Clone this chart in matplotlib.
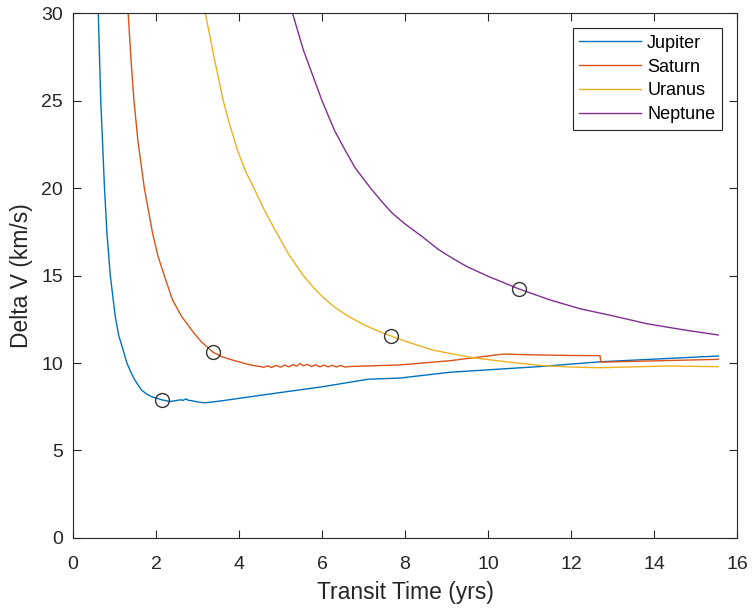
#!/usr/bin/env python
# -*- coding: utf-8 -*-
'''
Delta V versus transit time for the outer planets
'''
import matplotlib
matplotlib.use('Agg')
import matplotlib.pyplot as plt

##################################################################
# Data
##################################################################
jupiter_t = [0.61, 0.67, 0.76, 0.82, 0.90, 1.02, 1.10, 1.21, 1.30, 1.40,
             1.49, 1.65, 1.78, 1.90, 2.15, 2.34, 2.50, 2.60, 2.65, 2.72,
             2.78, 2.85, 3.00, 3.14, 3.25, 3.62, 4.27, 4.75, 6.03, 7.00,
             7.10, 7.88, 9.08, 11.33, 12.70, 15.55]
jupiter_dv = [30.0, 25.0, 20.0, 17.4, 15.0, 12.65, 11.6, 10.74, 10.0, 9.45,
              9.03, 8.46, 8.22, 8.07, 7.89, 7.80, 7.86, 7.90, 7.86, 7.95,
              7.87, 7.85, 7.78, 7.73, 7.74, 7.85, 8.07, 8.23, 8.65, 9.03,
              9.07, 9.14, 9.47, 9.81, 10.07, 10.40]

saturn_t = [1.33, 1.40, 1.47, 1.57, 1.72, 1.92, 2.05, 2.20, 2.40, 2.62,
            2.92, 3.10, 3.38, 3.60, 3.80, 4.27, 4.60, 4.70, 4.78, 4.90,
            5.00, 5.10, 5.20, 5.30, 5.40, 5.47, 5.55, 5.65, 5.75, 5.85,
            5.95, 6.05, 6.15, 6.25, 6.35, 6.45, 6.55, 6.67, 7.88, 9.08,
            9.65, 10.37, 11.00, 12.00, 12.70, 12.72, 15.55]
saturn_dv = [30.0, 27.3, 25.0, 22.6, 20.0, 17.4, 16.1, 15.0, 13.6, 12.65,
             11.7, 11.2, 10.61, 10.35, 10.2, 9.89, 9.76, 9.84, 9.74, 9.86,
             9.76, 9.88, 9.78, 9.90, 9.82, 9.98, 9.84, 9.92, 9.80, 9.90,
             9.78, 9.88, 9.78, 9.87, 9.77, 9.86, 9.77, 9.80, 9.89, 10.13,
             10.30, 10.51, 10.47, 10.43, 10.42, 10.05, 10.21]

uranus_t = [3.19, 3.38, 3.62, 3.78, 3.96, 4.15, 4.36, 4.60, 4.87, 5.20,
            5.55, 5.80, 6.05, 6.30, 6.55, 6.80, 7.00, 7.30, 7.67, 8.00,
            8.67, 9.08, 9.65, 10.50, 11.33, 12.00, 12.70, 13.50, 14.30, 15.55]
uranus_dv = [30.0, 27.7, 25.0, 23.6, 22.2, 21.0, 20.0, 18.8, 17.6, 16.2,
             15.0, 14.3, 13.7, 13.2, 12.8, 12.45, 12.2, 11.88, 11.54, 11.25,
             10.74, 10.55, 10.30, 10.05, 9.85, 9.77, 9.73, 9.78, 9.83, 9.79]

neptune_t = [5.29, 5.55, 6.00, 6.30, 6.55, 6.80, 7.17, 7.45, 7.70, 8.00,
             8.40, 8.80, 9.10, 9.50, 10.03, 10.75, 11.50, 12.22, 13.00, 13.82,
             14.70, 15.55]
neptune_dv = [30.0, 27.9, 25.0, 23.3, 22.2, 21.15, 20.0, 19.2, 18.55, 17.95,
              17.25, 16.5, 16.05, 15.5, 14.93, 14.23, 13.6, 13.1, 12.7, 12.25,
              11.9, 11.6]

# optimum points marked with circles
opt_t = [2.15, 3.38, 7.67, 10.75]
opt_dv = [7.89, 10.61, 11.54, 14.23]

##################################################################
# Plot
##################################################################
plt.rcParams['font.family'] = ['Liberation Sans', 'DejaVu Sans']

fig = plt.figure(figsize=(7.52, 6.09), dpi=100)
ax = fig.add_axes([0.097, 0.1166, 0.883, 0.862])

ax.plot(jupiter_t, jupiter_dv, color='#0072BD', lw=1.0, label='Jupiter')
ax.plot(saturn_t, saturn_dv, color='#D95319', lw=1.0, label='Saturn')
ax.plot(uranus_t, uranus_dv, color='#EDB120', lw=1.0, label='Uranus')
ax.plot(neptune_t, neptune_dv, color='#7E2F8E', lw=1.0, label='Neptune')
ax.plot(opt_t, opt_dv, 'o', mfc='none', mec='#333333', ms=10, mew=1.0)

ax.set_xlim(0, 16)
ax.set_ylim(0, 30)
ax.set_xticks(range(0, 17, 2))
ax.set_yticks(range(0, 31, 5))
ax.tick_params(direction='in', length=6, top=True, right=True,
               labelsize=14, colors='#262626', pad=7)
ax.tick_params(axis='x', pad=13)
for s in ax.spines.values():
    s.set_color('#262626')
    s.set_linewidth(0.8)

ax.set_xlabel('Transit Time (yrs)', fontsize=16.5, color='#262626', labelpad=6)
ax.set_ylabel('Delta V (km/s)', fontsize=16.5, color='#262626', labelpad=6)

leg = ax.legend(loc='upper right', fontsize=13, fancybox=False,
                framealpha=1, edgecolor='#262626', borderaxespad=0.85,
                handlelength=3.4, handletextpad=0.35, labelspacing=0.38,
                borderpad=0.35)
leg.get_frame().set_linewidth(0.8)

fig.savefig('out.png', dpi=100)
plt.close(fig)
